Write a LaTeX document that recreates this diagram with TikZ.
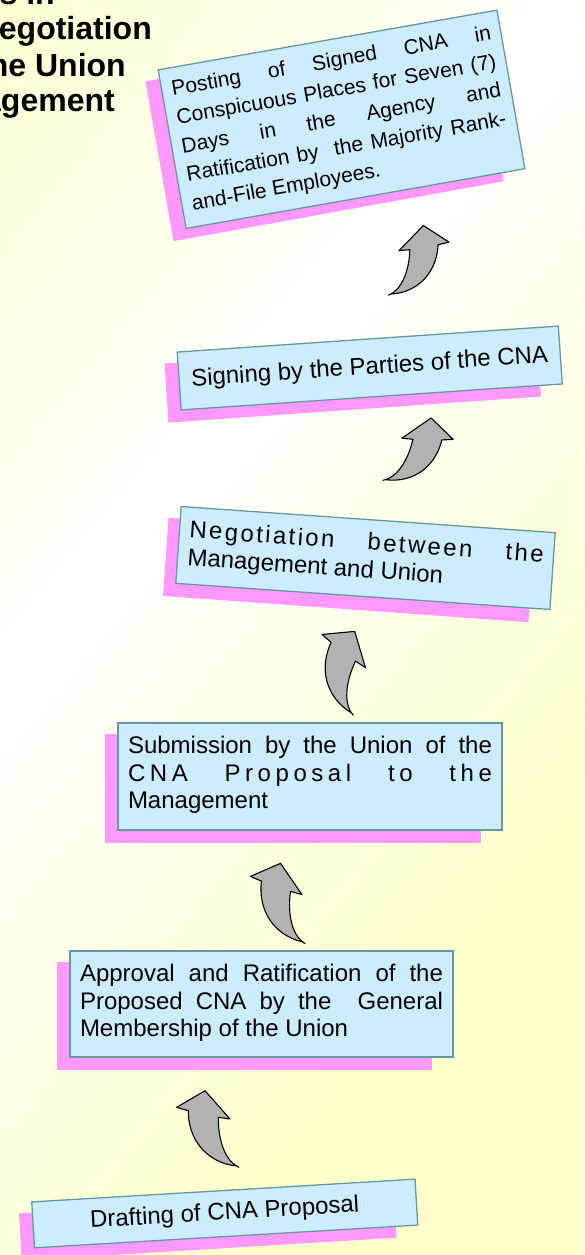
\documentclass[tikz,border=0pt]{standalone}
\usepackage{fontspec}
\setmainfont{Liberation Sans}
\usetikzlibrary{calc,backgrounds}

\definecolor{boxfill}{HTML}{CCECFF}
\definecolor{boxedge}{HTML}{669999}
\definecolor{shadowpink}{HTML}{FF99FF}
\definecolor{arrowgray}{HTML}{B2B2B2}
\definecolor{bgyellow}{HTML}{FFFFCC}

% justified text block of fixed size, lines broken by hand
\newcommand{\cnapar}[3]{\parbox[c][#2pt][t]{#1pt}{\tolerance=10000\hbadness=10000 #3}}
% pink shadow below and left of a box
\newcommand{\dropshade}[1]{\fill[shadowpink] ($(#1.north west)+(-12,-12)$) -- ($(#1.north east)+(-22,-12)$) -- ($(#1.south east)+(-22,-12)$) -- ($(#1.south west)+(-12,-12)$) -- cycle;}

\tikzset{
    bendarrow/.pic={
        \path[arrowbody] (-1.3,0.7) .. controls (-32,4) and (-50,28) .. (-49.7,56) -- (-61.3,59.4) -- (-33,76) -- (-8,47.7) -- (-19.7,49.4) .. controls (-20,25) and (-12,5) .. (1,-0.6) -- cycle;
    }
}

\begin{document}
\begin{tikzpicture}[
    x=1pt, y=1pt,
    cnabox/.style={draw=boxedge, fill=boxfill, line width=1.3pt, inner xsep=10pt, inner ysep=13pt, font=\fontsize{24pt}{27.7pt}\selectfont},
    arrowbody/.style={draw=black, fill=arrowgray, line width=1.1pt, line join=round},
    titletext/.style={inner sep=0pt, anchor=base east, font=\fontsize{32pt}{36pt}\selectfont\bfseries}
]
    \useasboundingbox (0,0) rectangle (584,-1255);

    % title, cut by the left edge
    \node[titletext] (title1) at (55,-5) {s in};
    \node[titletext] (title2) at (152,-39.5) {egotiation};
    \node[titletext] (title3) at (126,-76) {he Union};
    \node[titletext] (title4) at (115,-111) {agement};

    % steps
    \node[cnabox, rotate=10, font=\fontsize{21pt}{29pt}\selectfont] (post) at (341.5,-119.3) {\cnapar{324}{135}{Posting of Signed CNA in\linebreak Conspicuous Places for Seven (7)\linebreak Days in the Agency and\linebreak Ratification by\ \ the Majority Rank-\linebreak and-File Employees.}};
    \node[cnabox, rotate=3.9, inner sep=0pt, minimum width=382pt, minimum height=58pt] (sign) at (369.75,-368) {Signing by the Parties of the CNA};
    \node[cnabox, rotate=-4] (negot) at (365.5,-558) {\cnapar{355}{51}{{\addfontfeature{LetterSpace=10}Negotiation between the}\linebreak Management and Union}};
    \node[cnabox] (submit) at (310,-776.5) {\cnapar{364}{81}{Submission by the Union of the\linebreak {\addfontfeature{LetterSpace=19}CNA Proposal to the}\linebreak Management}};
    \node[cnabox] (approve) at (261.5,-1004) {\cnapar{363}{80}{Approval and Ratification of the\linebreak Proposed CNA by the\ \ General\linebreak Membership of the Union}};
    \node[cnabox, rotate=3.4, inner sep=0pt, minimum width=384pt, minimum height=46pt] (draft) at (224.75,-1213.5) {Drafting of CNA Proposal};

    % curved block arrows
    \pic[scale=0.93, rotate=-2.6, xscale=-1] at (389.5,-294.7) {bendarrow};
    \pic[scale=0.94, rotate=-13.7, xscale=-1] at (384,-480) {bendarrow};
    \pic[rotate=-25] at (352.5,-714.2) {bendarrow};
    \pic[rotate=-7] at (304,-942.8) {bendarrow};
    \pic at (238,-1166.7) {bendarrow};

    \begin{scope}[on background layer]
        \clip (0,0) rectangle (584,-1255);
        \fill[bgyellow] (0,0) rectangle (584,-1255);
        % white band across the page, fading to yellow on both sides
        \begin{scope}[shift={(292,-350)}, rotate=50.2]
            \foreach \k in {0,...,99} {
                \pgfmathsetmacro\lo{-500+10*\k}
                \pgfmathsetmacro\hi{\lo+10.6}
                \pgfmathtruncatemacro\mix{abs(\lo+5)/5}
                \fill[bgyellow!\mix!white] (-1500,\lo) -- (1500,\lo) -- (1500,\hi) -- (-1500,\hi) -- cycle;
            }
        \end{scope}
        \dropshade{post}
        \dropshade{sign}
        \dropshade{negot}
        \dropshade{submit}
        \dropshade{approve}
        \dropshade{draft}
    \end{scope}
\end{tikzpicture}
\end{document}
